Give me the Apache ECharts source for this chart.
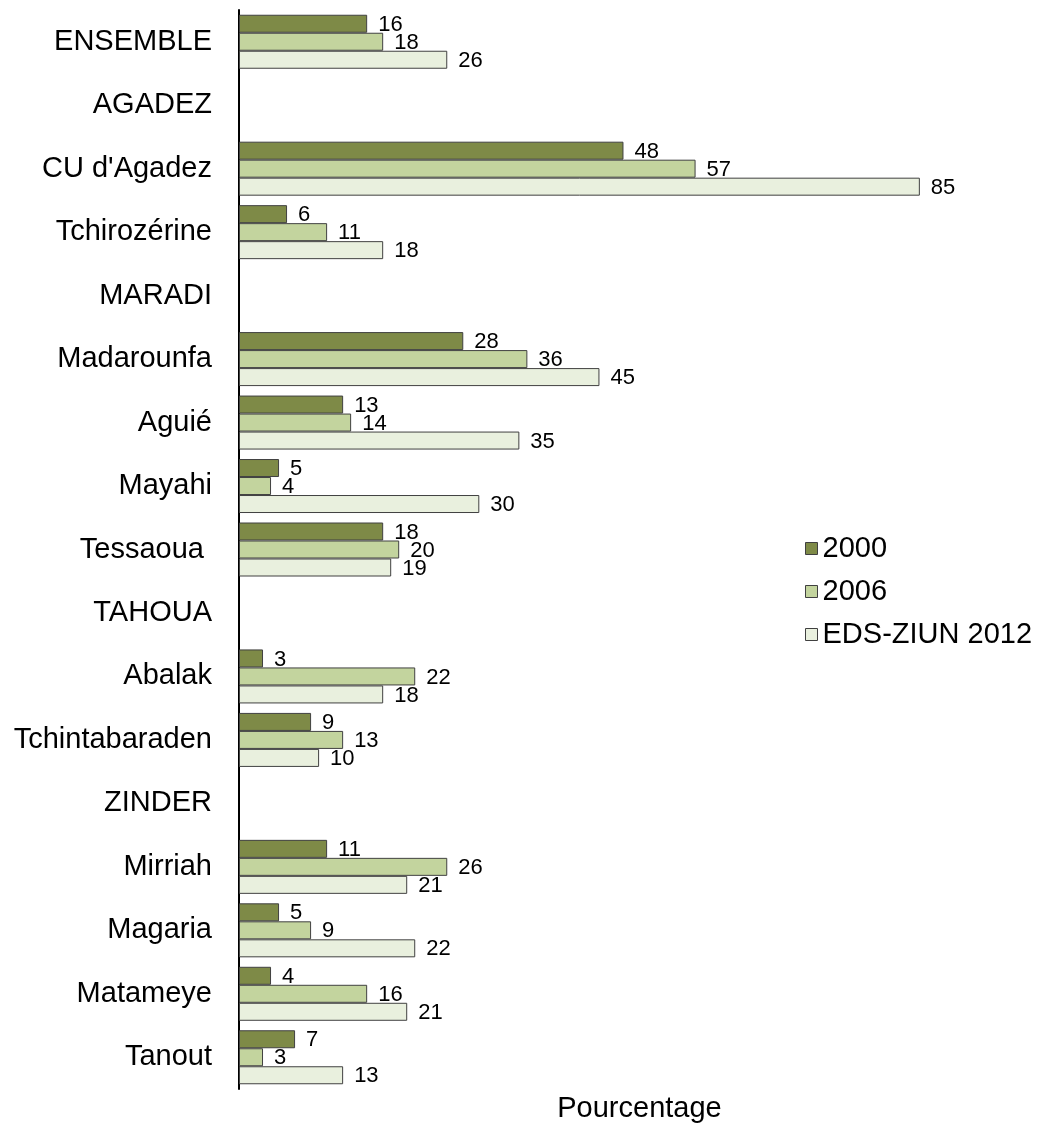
<!DOCTYPE html>
<html>
<head>
<meta charset="utf-8">
<script src="https://cdn.jsdelivr.net/npm/echarts@6/dist/echarts.min.js"></script>
<style>
  html, body { margin: 0; padding: 0; background: #ffffff; }
  #chart { width: 1038px; height: 1124px; }
</style>
</head>
<body>
<div id="chart"></div>
<script>
// Regions (uppercase rows are section headers with no bars)
const categories = [
  'ENSEMBLE', 'AGADEZ', "CU d'Agadez", 'Tchirozérine', 'MARADI',
  'Madarounfa', 'Aguié', 'Mayahi', 'Tessaoua ', 'TAHOUA',
  'Abalak', 'Tchintabaraden', 'ZINDER', 'Mirriah', 'Magaria',
  'Matameye', 'Tanout'
];
const seriesNames = ['2000', '2006', 'EDS-ZIUN 2012'];
const values2000 = [16, null, 48, 6, null, 28, 13, 5, 18, null, 3, 9, null, 11, 5, 4, 7];
const values2006 = [18, null, 57, 11, null, 36, 14, 4, 20, null, 22, 13, null, 26, 9, 16, 3];
const values2012 = [26, null, 85, 18, null, 45, 35, 30, 19, null, 18, 10, null, 21, 22, 21, 13];

const colors = ['#7e8a47', '#c3d49e', '#e9f0de'];
const FONT = '"Liberation Sans", Arial, sans-serif';

function makeSeries(name, data, color) {
  return {
    name: name,
    type: 'bar',
    data: data,
    barWidth: 18,
    barGap: '0%',
    itemStyle: { color: color, borderColor: '#404040', borderWidth: 1 },
    label: {
      show: true,
      position: 'right',
      distance: 11,
      offset: [0, 1],
      color: '#000',
      fontSize: 22,
      fontFamily: FONT
    },
    emphasis: { disabled: true },
    animation: false
  };
}

const chart = echarts.init(document.getElementById('chart'));
chart.setOption({
  backgroundColor: '#ffffff',
  textStyle: { fontFamily: FONT },
  legend: {
    orient: 'vertical',
    left: 805,
    top: 534,
    padding: 0,
    itemWidth: 12,
    itemHeight: 12,
    itemGap: 14,
    icon: 'rect',
    data: seriesNames.map((n, i) => ({
      name: n,
      itemStyle: { color: colors[i], borderColor: '#404040', borderWidth: 1 }
    })),
    textStyle: { fontSize: 29, color: '#000', fontFamily: FONT },
    selectedMode: false
  },
  grid: { left: 239, right: -2, top: 10, bottom: 35, containLabel: false, outerBoundsMode: 'none' },
  xAxis: {
    type: 'value',
    min: 0,
    max: 100,
    axisLine: { show: false },
    axisTick: { show: false },
    axisLabel: { show: false },
    splitLine: { show: false },
    name: 'Pourcentage',
    nameLocation: 'middle',
    nameGap: 5,
    nameTextStyle: { fontSize: 29, color: '#000', fontFamily: FONT, verticalAlign: 'top' }
  },
  yAxis: {
    type: 'category',
    data: categories,
    inverse: true,
    axisLine: { show: true, lineStyle: { color: '#000', width: 2 } },
    axisTick: { show: false },
    axisLabel: { fontSize: 29, color: '#000', margin: 27, fontFamily: FONT },
    splitLine: { show: false }
  },
  series: [
    makeSeries(seriesNames[0], values2000, colors[0]),
    makeSeries(seriesNames[1], values2006, colors[1]),
    makeSeries(seriesNames[2], values2012, colors[2])
  ]
});
</script>
</body>
</html>
